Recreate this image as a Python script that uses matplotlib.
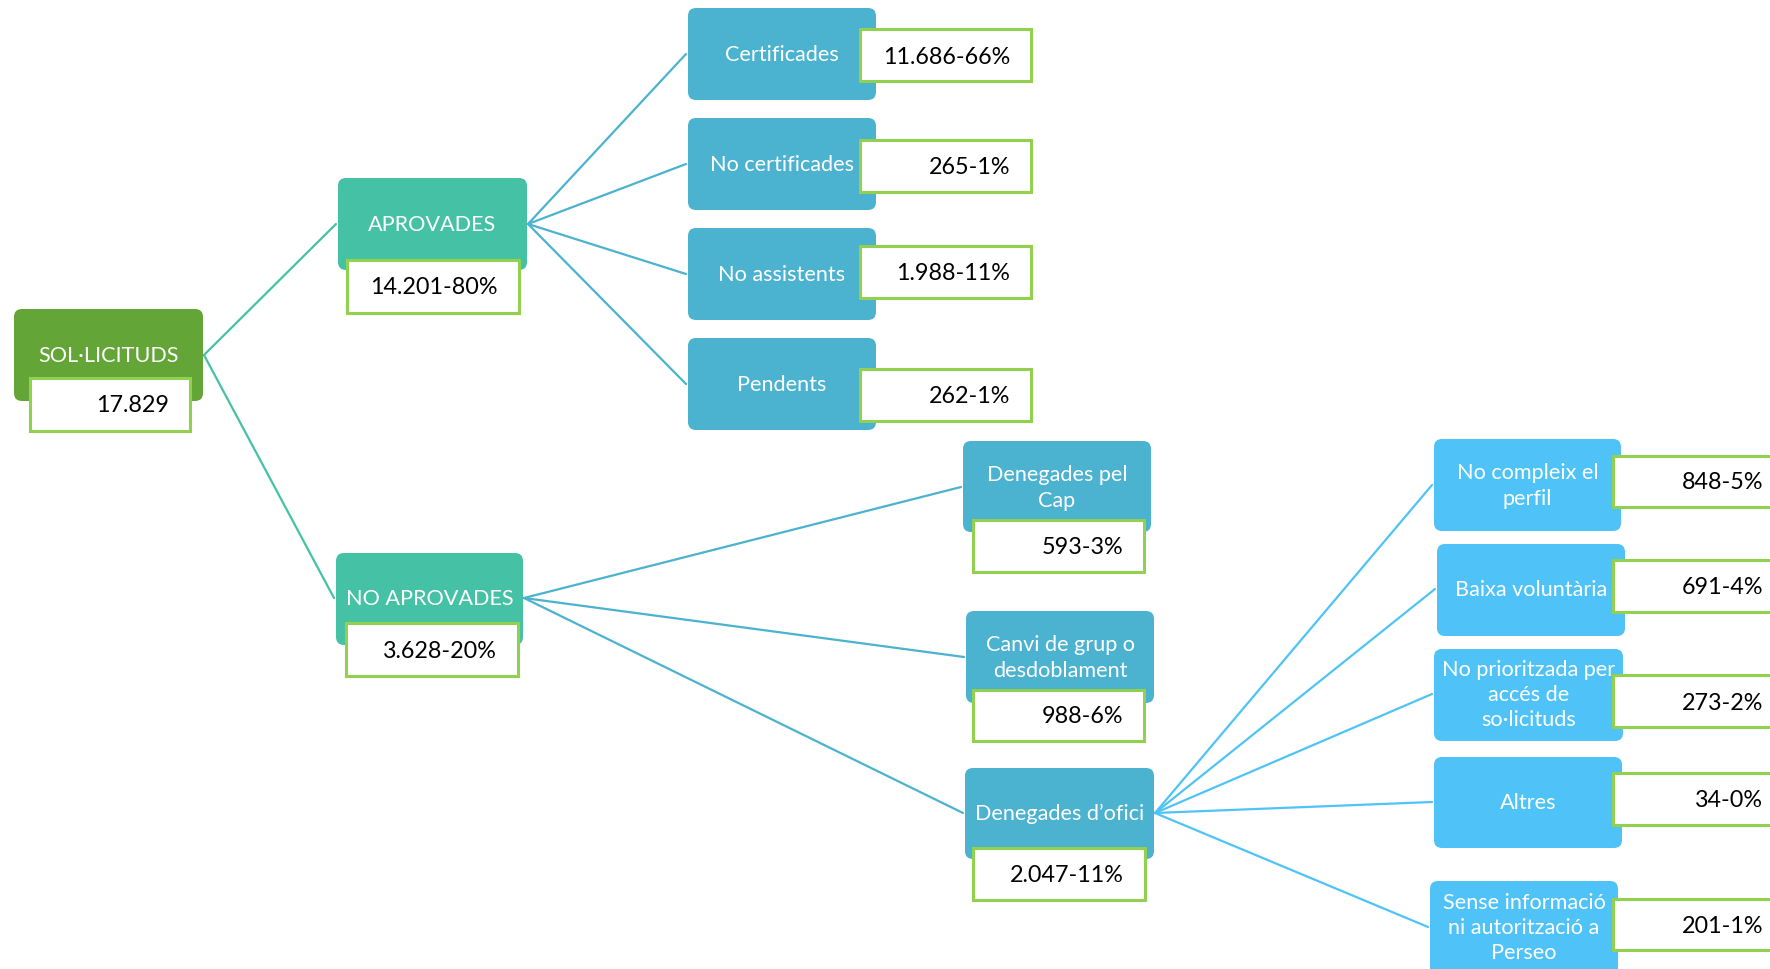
import matplotlib
matplotlib.use("Agg")
import matplotlib.pyplot as plt
from matplotlib.patches import FancyBboxPatch, Rectangle

plt.rcParams['font.family'] = ['Lato', 'DejaVu Sans']

# --- values ---
labels = ["SOL·LICITUDS", "APROVADES", "NO APROVADES",
          "Certificades", "No certificades", "No assistents", "Pendents",
          "Denegades pel\nCap", "Canvi de grup o\ndesdoblament", "Denegades d’ofici",
          "No compleix el\nperfil", "Baixa voluntària",
          "No prioritzada per\naccés de\nso·licituds", "Altres",
          "Sense informació\nni autorització a\nPerseo"]
counts = [17829, 14201, 3628, 11686, 265, 1988, 262,
          593, 988, 2047, 848, 691, 273, 34, 201]
pcts = [None, 80, 20, 66, 1, 11, 1, 3, 6, 11, 5, 4, 2, 0, 1]
parents = [None, 0, 0, 1, 1, 1, 1, 2, 2, 2, 9, 9, 9, 9, 9]

# --- layout (pixel space of the 1770x970 image) ---
# box: x0, x1, y0, y1 ; vbox: value box ; ty / vy: text rows
box = [(14, 203, 310, 402), (338, 527, 179, 271), (336, 523, 554, 646),
       (688, 876, 9, 101), (688, 876, 119, 211), (688, 876, 229, 321), (688, 876, 339, 431),
       (963, 1151, 442, 533), (966, 1154, 612, 704), (965, 1154, 769, 860),
       (1434, 1621, 440, 532), (1437, 1625, 545, 637), (1434, 1623, 650, 742),
       (1434, 1622, 758, 849), (1430, 1618, 882, 990)]
vbox = [(30, 190, 379, 432), (347, 519, 261, 314), (346, 518, 624, 677),
        (860, 1031, 30, 82), (860, 1031, 141, 193), (860, 1031, 247, 299), (860, 1031, 370, 422),
        (973, 1144, 521, 573), (973, 1144, 691, 742), (973, 1145, 849, 901),
        (1613, 1790, 457, 508), (1613, 1790, 561, 613), (1613, 1790, 676, 728),
        (1613, 1790, 774, 826), (1613, 1790, 900, 951)]
ty = [356, 225, 599, 55, 165, 275, 385, 488, 658, 814, 486, 590, 695, 803, 928]
vy = [406, 288, 652, 57, 168, 274, 397, 548, 717, 876, 483, 588, 704, 801, 927]
col = ['#63A537', '#45C1A5', '#45C1A5',
       '#4BB2CF', '#4BB2CF', '#4BB2CF', '#4BB2CF',
       '#4BB2CF', '#4BB2CF', '#4BB2CF',
       '#4FC3F7', '#4FC3F7', '#4FC3F7', '#4FC3F7', '#4FC3F7']
lime = '#92D050'

fig = plt.figure(figsize=(17.7, 9.7), dpi=100)
ax = fig.add_axes([0, 0, 1, 1])
ax.set_xlim(0, 1770)
ax.set_ylim(970, 0)
ax.axis('off')

# connectors: parent right edge -> child left edge, coloured like the child
for i, p in enumerate(parents):
    if p is None:
        continue
    ax.plot([box[p][1] + 1, box[i][0] - 2], [ty[p], ty[i]],
            color=col[i], lw=1.6, solid_capstyle='round', zorder=1)

for i, lab in enumerate(labels):
    x0, x1, y0, y1 = box[i]
    ax.add_patch(FancyBboxPatch((x0, y0), x1 - x0, y1 - y0,
                                boxstyle="round,pad=0,rounding_size=8",
                                fc=col[i], ec='none', zorder=2))
    ax.text((x0 + x1) / 2, ty[i], lab, color='white', fontsize=15.6,
            ha='center', va='center', linespacing=1.32, zorder=3)

    v0, v1, w0, w1 = vbox[i]
    ax.add_patch(Rectangle((v0, w0), v1 - v0, w1 - w0, fc='white',
                           ec=lime, lw=2.2, zorder=4))
    txt = f"{counts[i]:,}".replace(",", ".")
    if pcts[i] is not None:
        txt += f"-{pcts[i]}%"
    tx = min(v1, 1784) - 21
    ax.text(tx, vy[i], txt, color='black', fontsize=16.8,
            ha='right', va='center', zorder=5)

fig.savefig('out.png', dpi=100)
